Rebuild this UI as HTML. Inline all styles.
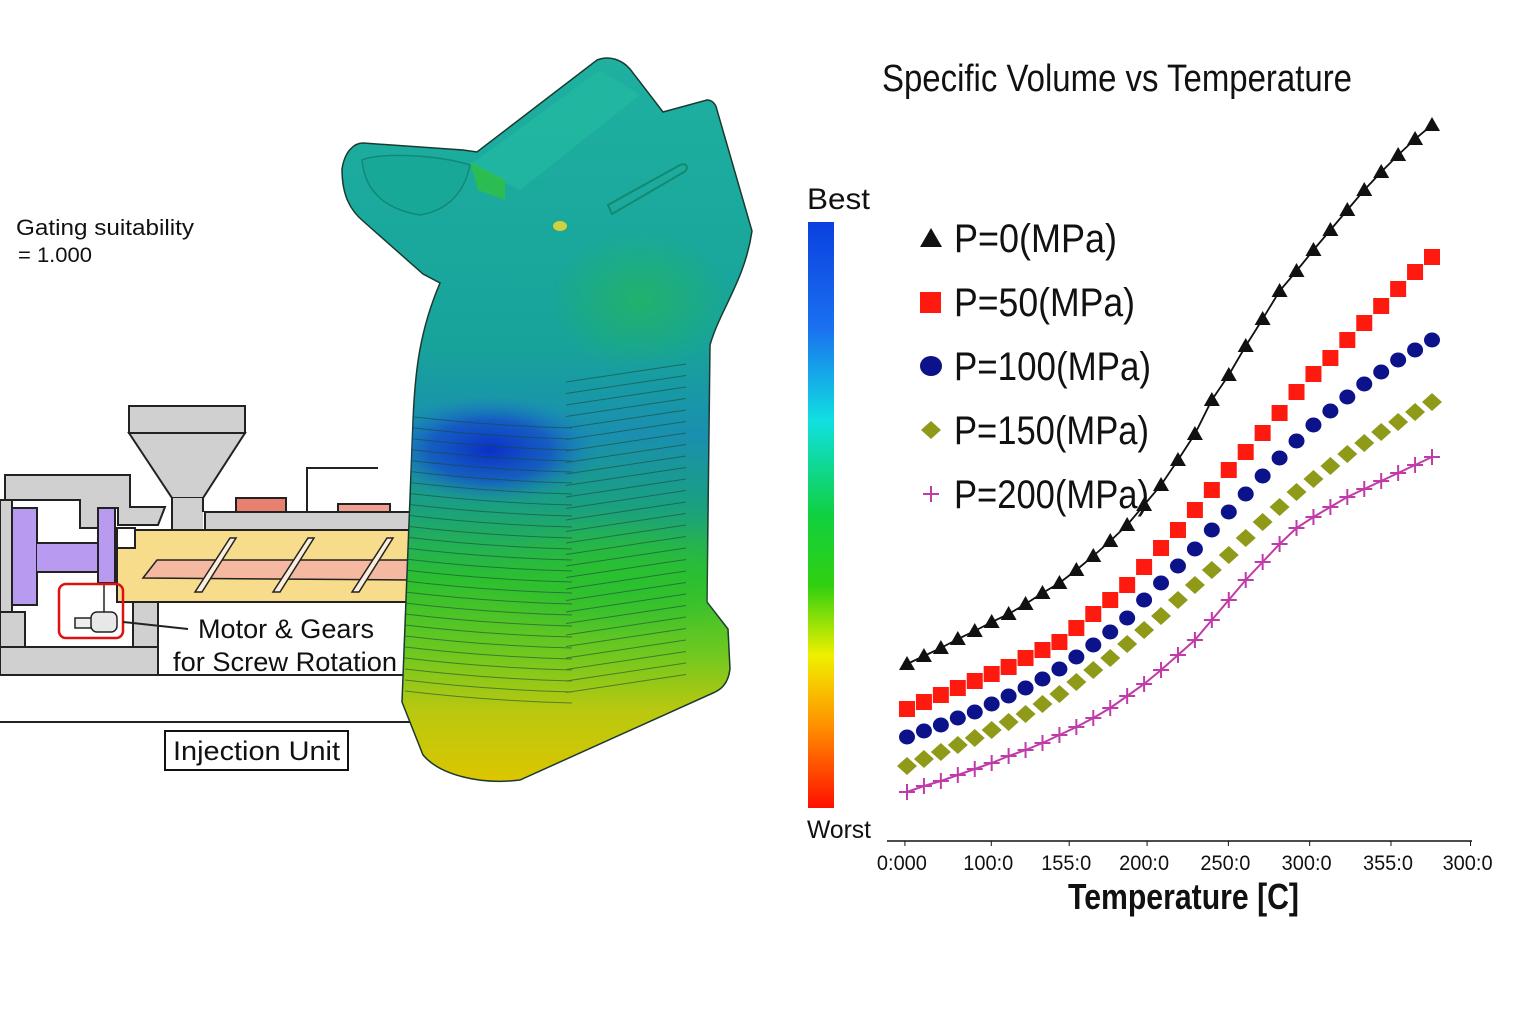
<!DOCTYPE html>
<html><head><meta charset="utf-8">
<style>
html,body{margin:0;padding:0;background:#fff;}
body{width:1536px;height:1024px;overflow:hidden;position:relative;font-family:"Liberation Sans",sans-serif;}
svg{position:absolute;left:0;top:0;}
</style></head>
<body>
<svg id="main" width="1536" height="1024" viewBox="0 0 1536 1024">
<defs>
 <linearGradient id="gripGrad" x1="0" y1="0" x2="0" y2="1" gradientUnits="objectBoundingBox">
  <stop offset="0" stop-color="#1fb0a0"/>
  <stop offset="0.4" stop-color="#17a39a"/>
  <stop offset="0.52" stop-color="#1a8fb0"/>
  <stop offset="0.62" stop-color="#1aa080"/>
  <stop offset="0.72" stop-color="#2cbf30"/>
  <stop offset="0.82" stop-color="#6cc820"/>
  <stop offset="0.9" stop-color="#b8c810"/>
  <stop offset="1" stop-color="#dcc600"/>
 </linearGradient>
 <radialGradient id="blueBlob" cx="0.5" cy="0.5" r="0.5">
  <stop offset="0" stop-color="#0a2fc8" stop-opacity="1"/>
  <stop offset="0.55" stop-color="#1450c8" stop-opacity="0.8"/>
  <stop offset="1" stop-color="#1a80c0" stop-opacity="0"/>
 </radialGradient>
 <radialGradient id="greenBlob" cx="0.5" cy="0.5" r="0.5">
  <stop offset="0" stop-color="#2bc030" stop-opacity="0.9"/>
  <stop offset="1" stop-color="#2bc030" stop-opacity="0"/>
 </radialGradient>
 <linearGradient id="cbGrad" x1="0" y1="0" x2="0" y2="1">
  <stop offset="0" stop-color="#0a40e0"/>
  <stop offset="0.18" stop-color="#1a70f0"/>
  <stop offset="0.34" stop-color="#10e0e0"/>
  <stop offset="0.5" stop-color="#10d040"/>
  <stop offset="0.62" stop-color="#30d010"/>
  <stop offset="0.74" stop-color="#f0f000"/>
  <stop offset="0.86" stop-color="#ff9000"/>
  <stop offset="1" stop-color="#ff1000"/>
 </linearGradient>
 <clipPath id="gripClip"><path d="M342,169 C345,150 355,143 363,143 L463,150 L477,152 L597,60 C610,55 622,60 630,69 L663,112 L707,100 C712,100 716,104 717,110 L752,231 C745,280 720,310 710,345 L707,602 L728,629 L730,669 C728,685 720,690 713,693 L520,780 C480,785 440,775 423,755 L402,702 L413,421 C415,370 420,330 440,283 L423,274 L363,221 C350,210 342,195 342,169 Z"/></clipPath>
</defs>

<text x="16" y="235" font-size="22" fill="#111" textLength="178" lengthAdjust="spacingAndGlyphs">Gating suitability</text>
<text x="18" y="262" font-size="21" fill="#111" textLength="74" lengthAdjust="spacingAndGlyphs">= 1.000</text>

<g stroke="#222" stroke-width="2">
 <rect x="129" y="406" width="116" height="27" fill="#d0d0d0"/>
 <polygon points="129,433 245,433 203,498 172,498" fill="#d0d0d0"/>
 <rect x="172" y="498" width="31" height="34" fill="#d0d0d0" stroke="none"/>
 <line x1="172" y1="498" x2="172" y2="530"/><line x1="203" y1="498" x2="203" y2="512"/>
 <rect x="205" y="512" width="210" height="18" fill="#d0d0d0"/>
 <rect x="236" y="498" width="50" height="14" fill="#e88070"/>
 <rect x="338" y="504" width="52" height="8" fill="#f0a090"/>
 <polyline points="307,512 307,468 378,468" fill="none"/>
 <polygon points="5,475 130,475 130,507 165,507 158,525 118,525 118,508 98,508 98,528 80,528 80,500 5,500" fill="#d0d0d0"/>
 <rect x="0" y="500" width="12" height="112" fill="#d0d0d0"/>
 <rect x="117" y="530" width="296" height="72" fill="#f7dc8c"/>
 <rect x="117" y="528" width="18" height="20" fill="#fff"/>
 <polygon points="143,578 157,560 410,560 410,580" fill="#f5b8a0" stroke-width="1.5"/>
 <polygon points="195,592 230,538 236,538 202,592" fill="#fbeedc" stroke-width="1.5"/>
 <polygon points="273,592 308,538 314,538 280,592" fill="#fbeedc" stroke-width="1.5"/>
 <polygon points="352,592 387,538 393,538 359,592" fill="#fbeedc" stroke-width="1.5"/>
 <rect x="12" y="508" width="25" height="97" fill="#b89af0"/>
 <rect x="37" y="543" width="61" height="29" fill="#b89af0" stroke="none"/>
 <line x1="37" y1="543" x2="98" y2="543"/><line x1="37" y1="572" x2="98" y2="572"/>
 <rect x="98" y="508" width="17" height="75" fill="#b89af0"/>
 <rect x="0" y="612" width="25" height="35" fill="#d0d0d0"/>
 <rect x="133" y="602" width="25" height="45" fill="#d0d0d0"/>
 <rect x="0" y="647" width="158" height="28" fill="#d0d0d0"/>
 <line x1="0" y1="675" x2="410" y2="675"/>
 <line x1="0" y1="722" x2="410" y2="722"/>
 <rect x="75" y="618" width="18" height="10" fill="#eee" stroke-width="1.5"/>
 <rect x="91" y="612" width="26" height="20" rx="6" fill="#e8e8e8" stroke-width="1.5"/>
 <line x1="104" y1="583" x2="104" y2="612" stroke-width="1.5"/>
 <rect x="59" y="584" width="64" height="54" rx="7" fill="none" stroke="#e01010" stroke-width="2.5"/>
 <line x1="123" y1="622" x2="188" y2="629"/>
</g>
<text x="198" y="638" font-size="27" fill="#111" textLength="176" lengthAdjust="spacingAndGlyphs">Motor &amp; Gears</text>
<text x="173" y="671" font-size="27" fill="#111" textLength="224" lengthAdjust="spacingAndGlyphs">for Screw Rotation</text>
<rect x="165" y="731" width="183" height="39" fill="#fff" stroke="#111" stroke-width="2"/>
<text x="173" y="760" font-size="27" fill="#111" textLength="167" lengthAdjust="spacingAndGlyphs">Injection Unit</text>

<g>
 <path d="M342,169 C345,150 355,143 363,143 L463,150 L477,152 L597,60 C610,55 622,60 630,69 L663,112 L707,100 C712,100 716,104 717,110 L752,231 C745,280 720,310 710,345 L707,602 L728,629 L730,669 C728,685 720,690 713,693 L520,780 C480,785 440,775 423,755 L402,702 L413,421 C415,370 420,330 440,283 L423,274 L363,221 C350,210 342,195 342,169 Z" fill="url(#gripGrad)" stroke="#1a3a30" stroke-width="1.5"/>
 <g clip-path="url(#gripClip)">
  <ellipse cx="490" cy="450" rx="110" ry="55" fill="url(#blueBlob)"/>
  <ellipse cx="620" cy="580" rx="140" ry="60" fill="url(#greenBlob)"/>
  <ellipse cx="640" cy="300" rx="90" ry="70" fill="url(#greenBlob)" opacity="0.5"/>
  <path d="M362,160 C380,152 440,155 470,165 C465,190 450,210 420,215 C390,210 365,195 362,160 Z" fill="#18a898" stroke="#128878" stroke-width="1.5"/>
  <path d="M470,165 L600,70 L640,95 L520,190 Z" fill="#22b8a0" opacity="0.8"/>
  <path d="M470,162 L505,180 L505,200 L478,190 Z" fill="#30c040" opacity="0.8"/>
  <ellipse cx="560" cy="226" rx="7" ry="5" fill="#d0d040"/>
  <path d="M608,205 L680,165 C686,162 690,168 684,172 L612,214 Z" fill="none" stroke="#138a70" stroke-width="2"/>
  <g id="ribs" stroke="#1a4a3a" stroke-width="1" fill="none" opacity="0.6"></g>
 </g>
</g>

<text x="882" y="91" font-size="38" fill="#111" textLength="470" lengthAdjust="spacingAndGlyphs">Specific Volume vs Temperature</text>
<text x="807" y="209" font-size="30" fill="#111" textLength="63" lengthAdjust="spacingAndGlyphs">Best</text>
<rect x="808" y="222" width="26" height="586" fill="url(#cbGrad)"/>
<text x="807" y="838" font-size="25" fill="#111" textLength="64" lengthAdjust="spacingAndGlyphs">Worst</text>
<line x1="887" y1="841" x2="1472" y2="841" stroke="#111" stroke-width="1.5"/>
<g id="xticks"></g>
<text x="1068" y="909" font-size="36" font-weight="bold" fill="#111" textLength="231" lengthAdjust="spacingAndGlyphs">Temperature [C]</text>
<g id="series"></g>
<g id="legend"></g>
</svg>

<script>
const temps = [0,10,20,30,40,50,60,70,80,90,100,110,120,130,140,150,160,170,180,190,200,210,220,230,240,250,260,270,280,290,300,310];
const p0   = [176,184,192,201,209,218,226,236,247,257,270,284,299,315,335,355,380,406,440,465,494,521,549,569,590,610,630,650,668,685,701,715];
const p50  = [131,138,145,152,159,166,173,182,190,198,212,226,240,255,273,292,310,330,350,370,388,407,427,448,466,482,500,517,534,551,568,583];
const p100 = [103,109,115,122,128,136,144,152,161,171,183,195,208,222,240,257,274,291,310,328,346,364,382,399,415,429,443,456,468,480,490,500];
const p150 = [74,81,88,95,102,110,118,126,136,146,158,170,182,196,210,224,240,255,270,285,302,318,333,348,361,374,386,397,408,418,428,438];
const p200 = [48,54,59,65,71,77,84,90,97,105,113,122,132,144,156,170,185,200,220,240,260,278,296,312,323,333,343,351,359,367,375,383];
const seriesNames = ["P=0(MPa)","P=50(MPa)","P=100(MPa)","P=150(MPa)","P=200(MPa)"];
const tickLabels = ["0:000","100:0","155:0","200:0","250:0","300:0","355:0","300:0"];
const tickTemps = [-3,48,94,140,188,236,284,331];

const legendWidths = [163,181,197,195,195];
const NS="http://www.w3.org/2000/svg";
function xs(t){return 907+(t-0)*(1432-907)/310;}
function ys(v){return 840-v;}
function mk(tag,attrs,parent){const e=document.createElementNS(NS,tag);for(const k in attrs)e.setAttribute(k,attrs[k]);parent.appendChild(e);return e;}

const xt=document.getElementById('xticks');
tickLabels.forEach((lab,i)=>{
  const x=xs(tickTemps[i]);
  const l=mk('line',{x1:x+3,y1:841,x2:x+3,y2:846,stroke:'#111','stroke-width':1},xt);
  
  
  const t=mk('text',{x:x-25,y:870,'font-size':21,fill:'#111',textLength:50,lengthAdjust:'spacingAndGlyphs'},xt);
  t.textContent=lab;
  
  
});

function marker(g,type,x,y,color){
  let e;
  if(type==='tri') e=mk('polygon',{points:`${x},${y-8} ${x-8},${y+6} ${x+8},${y+6}`,fill:color},g);
  else if(type==='sq') e=mk('rect',{x:x-8,y:y-8,width:16,height:16,fill:color},g);
  else if(type==='ci') e=mk('ellipse',{cx:x,cy:y,rx:8,ry:7.5,fill:color},g);
  else if(type==='di') e=mk('polygon',{points:`${x},${y-9} ${x+10},${y} ${x},${y+9} ${x-10},${y}`,fill:color},g);
  else { e=mk('path',{d:`M${x-8},${y}H${x+8}M${x},${y-8}V${y+8}`,stroke:color,'stroke-width':2,fill:'none'},g); }
  return e;
}
const sdata=[p0,p50,p100,p150,p200];
const types=['tri','sq','ci','di','pl'];
const colors=['#111','#ff1a10','#0c128a','#8e9a18','#c03aa8'];
const lines=[true,false,false,false,true];
const sg=document.getElementById('series');
sdata.forEach((arr,si)=>{
  const g=mk('g',{},sg);
  
  
  if(lines[si]){
    const pl=mk('polyline',{points:arr.map((v,i)=>xs(temps[i])+','+ys(v)).join(' '),fill:'none',stroke:colors[si],'stroke-width':si===0?1.8:2},g);
    
    
  }
  arr.forEach((v,i)=>{
    const m=marker(g,types[si],xs(temps[i]),ys(v),colors[si]);
    
    
  });
});

const lg=document.getElementById('legend');
seriesNames.forEach((n,i)=>{
  const y=238+i*64;
  const g=mk('g',{},lg);
  
  
  const m=marker(g,types[i],931,y,colors[i]);
  if(types[i]==='tri'){m.setAttribute('points',`931,${y-10} 920,${y+9} 942,${y+9}`);}
  if(types[i]==='sq'){m.setAttribute('x',920);m.setAttribute('y',y-10);m.setAttribute('width',21);m.setAttribute('height',21);}
  if(types[i]==='ci'){m.setAttribute('rx',11);m.setAttribute('ry',10);}
  
  
  const t=mk('text',{x:954,y:y+14,'font-size':40,fill:'#111',textLength:legendWidths[i],lengthAdjust:'spacingAndGlyphs'},g);
  t.textContent=n;
  
  
});

const rg=document.getElementById('ribs');
for(let i=0;i<26;i++){
  const y=420+i*11;
  const r1=mk('path',{d:`M405,${y-4} Q490,${y+6} 572,${y+8}`},rg);
  
  
}
for(let i=0;i<28;i++){
  const y=372+i*11.5;
  const r2=mk('path',{d:`M566,${y+10} L686,${y-8}`},rg);
  
  
}
</script>
</body></html>
